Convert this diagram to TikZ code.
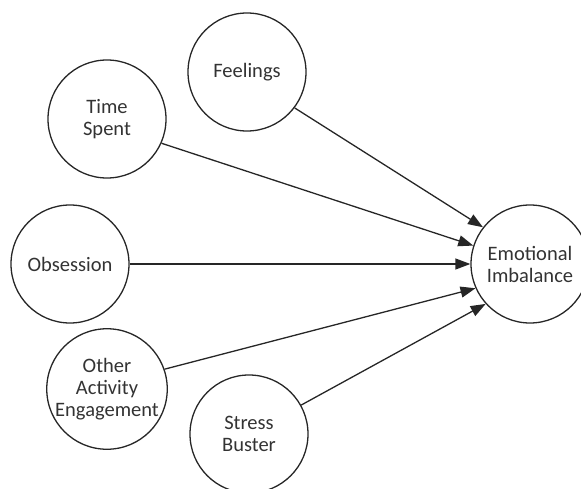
\documentclass[tikz,border=0pt]{standalone}
\usepackage{fontspec}
\setmainfont{Carlito}
\usetikzlibrary{arrows.meta}
\begin{document}
\begin{tikzpicture}[x=1pt,y=-1pt,
  factor/.style={circle,draw=black!85,line width=1.3pt,minimum size=118pt,inner sep=0pt,
    align=center,font=\fontsize{20.5}{22}\selectfont,text=black!80},
  link/.style={draw=black!85,line width=1.3pt,-{Triangle[length=15pt,width=11pt]}}]
\useasboundingbox (0,0) rectangle (581,489);
\clip (0,0) rectangle (581,489);
\node[factor] (fe) at (247,72) {Feelings};
\node[factor] (ts) at (107,119) {Time\\Spent};
\node[factor] (ob) at (70,264) {Obsession};
\node[factor] (oa) at (107,389) {Other\\Activity\\Engagement};
\node[factor] (sb) at (249,434) {Stress\\Buster};
\node[factor] (ei) at (530,264) {Emotional\\Imbalance};
\draw[link] (fe.-37) -- (ei.142);
\draw[link] (ts.-24) -- (ei.162);
\draw[link] (ob.0) -- (ei.180);
\draw[link] (oa.19) -- (ei.204);
\draw[link] (sb.29) -- (ei.222);
\end{tikzpicture}
\end{document}
